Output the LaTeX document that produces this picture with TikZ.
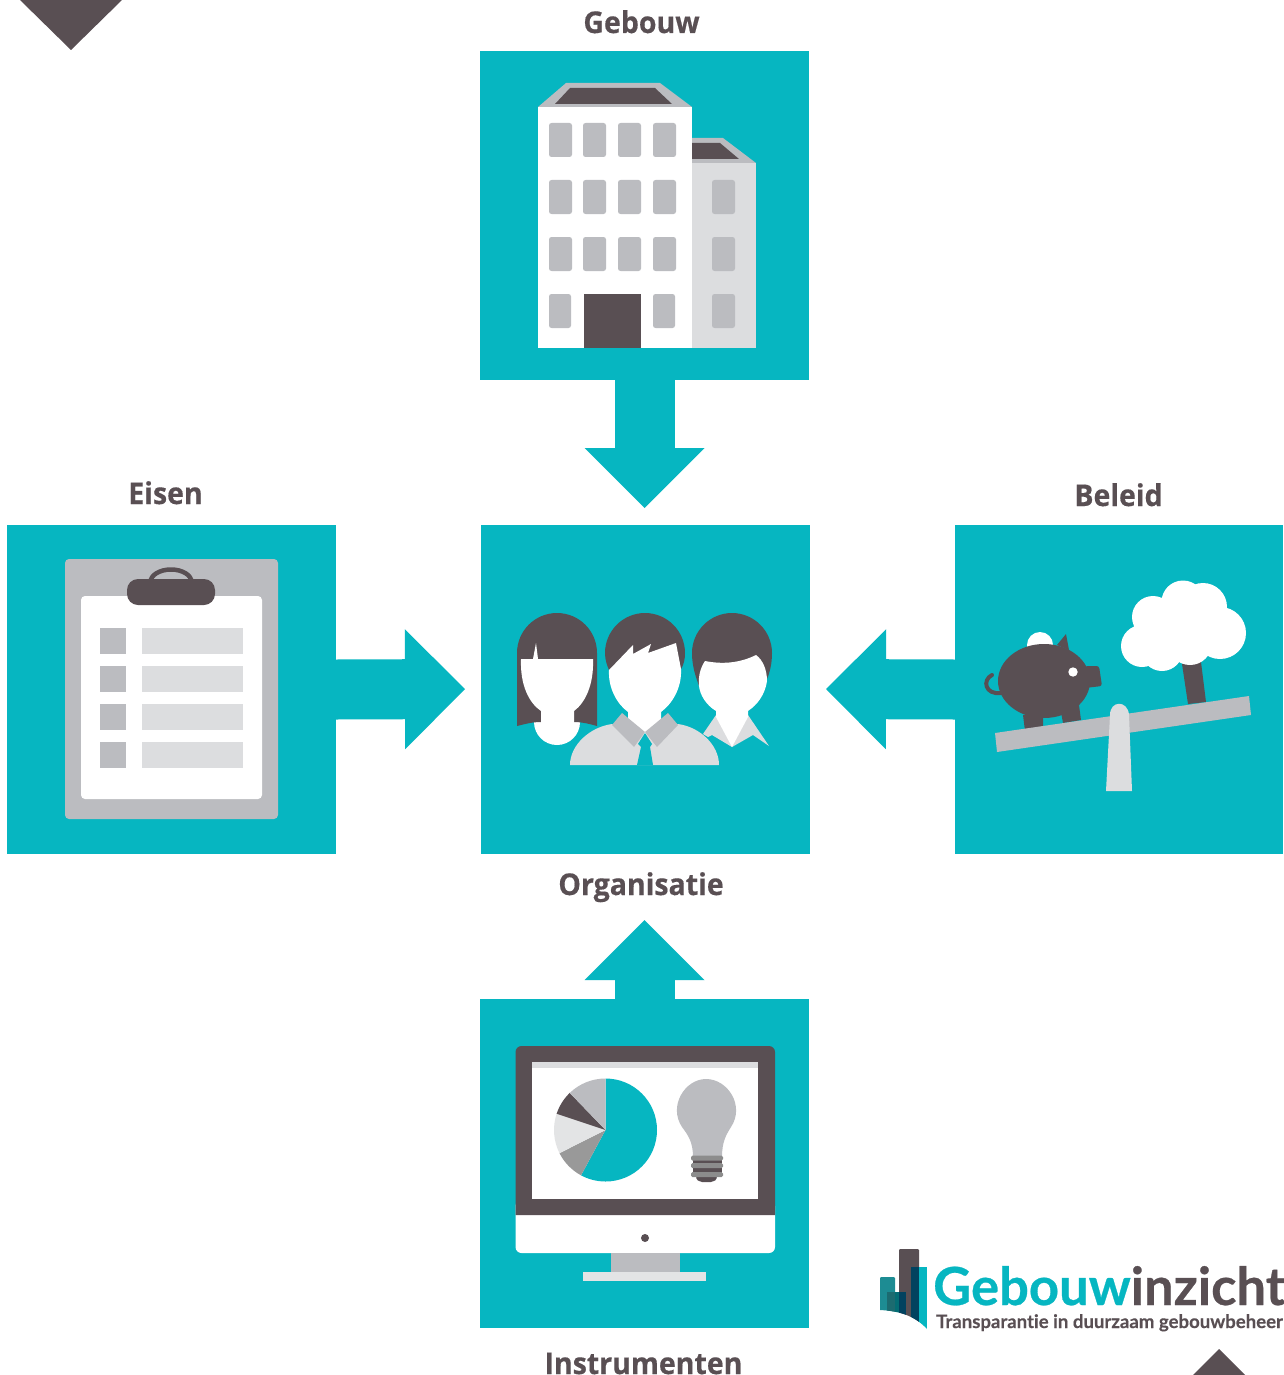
\documentclass[tikz,border=0pt]{standalone}
\usepackage{fontspec}
\setmainfont[FakeStretch=0.95,BoldFeatures={FakeBold=0.4}]{Open Sans}
\newfontfamily\logofont[Ligatures=NoCommon,BoldFeatures={FakeBold=0.5}]{Lato}
\newfontfamily\tagfont[Ligatures=NoCommon,BoldFeatures={FakeBold=0.3}]{Lato}
\usetikzlibrary{arrows.meta}
\definecolor{teal}{HTML}{06B6C1}
\definecolor{ink}{HTML}{594F53}
\definecolor{midgray}{HTML}{BBBCC0}
\definecolor{lightgray}{HTML}{DCDDDF}
\tikzset{
  square/.style={fill=teal,draw=none,minimum size=329pt,inner sep=0pt,outer sep=0pt,anchor=north west},
  flow/.style={draw=teal,line width=60pt,-{Triangle[length=60pt,width=120pt,line width=0pt]}},
  caption/.style={font=\fontsize{30}{36}\bfseries\selectfont,text=ink,anchor=base,inner sep=0pt},
  win/.style={fill=midgray,rounded corners=2.5pt},
}
\begin{document}
\begin{tikzpicture}[x=1pt,y=-1pt]
\useasboundingbox (0,0) rectangle (1283,1375);
\fill[white] (0,0) rectangle (1283,1375);
% corner triangles
\fill[ink] (20,0) -- (122,0) -- (71,50) -- cycle;
\fill[ink] (1193,1375) -- (1245,1375) -- (1219,1349) -- cycle;
% squares
\node[square] (gebouw) at (480,51) {};
\node[square] (eisen) at (7,525) {};
\node[square] (org) at (481,525) {};
\node[square,minimum width=328pt] (beleid) at (955,525) {};
\node[square] (instr) at (480,999) {};
% connectors
\coordinate (tipa) at (644.5,508);
\coordinate (tipb) at (465,689);
\coordinate (tipc) at (826,689);
\coordinate (tipd) at (644.5,920);
\draw[flow] (gebouw.south) -- (tipa);
\draw[flow] (eisen.east) -- (tipb);
\draw[flow] (beleid.west) -- (tipc);
\draw[flow] (instr.north) -- (tipd);
% captions
\node[caption] (lgebouw) at (641.5,33) {Gebouw};
\node[caption] (leisen) at (165.5,504) {Eisen};
\node[caption] (lbeleid) at (1118.5,506) {Beleid};
\node[caption] (lorg) at (641,895) {Organisatie};
\node[caption] (linstr) at (643.5,1374) {Instrumenten};
% building
\fill[lightgray] (692,163) rectangle (756,348);
\fill[midgray] (692,138) -- (723,138) -- (756,163) -- (692,163) -- cycle;
\fill[ink] (692,143) -- (720,143) -- (739,159) -- (692,159) -- cycle;
\fill[white] (538,107) rectangle (692,348);
\fill[midgray] (538,107) -- (566,83) -- (660,83) -- (692,107) -- cycle;
\fill[ink] (555,104) -- (570,88) -- (655,88) -- (672,104) -- cycle;
\foreach \y in {123,180,237}{
  \foreach \x in {549,583,618,653}{
    \fill[win] (\x,\y) rectangle ++(23,34);
  }
}
\fill[win] (549,294) rectangle ++(22,34);
\fill[win] (653,294) rectangle ++(22,34);
\foreach \y in {180,237,294}{\fill[win] (712,\y) rectangle ++(23,34);}
\fill[ink] (584,294) rectangle (641,348);
% clipboard
\fill[midgray,rounded corners=4pt] (65,559) rectangle (278,819);
\fill[white,rounded corners=4pt] (81,596) rectangle (262,799);
\draw[ink,line width=4.5pt] (150.5,582) arc[start angle=180,end angle=360,x radius=20.5,y radius=12.5];
\fill[ink,rounded corners=11pt] (127,579) rectangle (215,605);
\foreach \y in {628,666,704,742}{
  \fill[midgray] (100,\y) rectangle ++(26,26);
  \fill[lightgray] (142,\y) rectangle ++(101,26);
}
% left woman
\fill[white] (557,722) circle[radius=23];
\fill[ink] (517,726) -- (517,653) arc[start angle=180,end angle=360,radius=40] -- (597,726)
  .. controls (590,724) and (582,722) .. (574,722) -- (541,722) .. controls (532,722) and (525,724) .. (517,726) -- cycle;
\fill[white] (521,659) -- (533,659) -- (536,643) -- (538,659) -- (593,659)
  .. controls (594,685) and (585,703) .. (574,711) -- (574,735) -- (541,735) -- (541,711)
  .. controls (529,703) and (520,685) .. (521,659) -- cycle;
% right woman
\fill[ink] (692,653) .. controls (692,631) and (710,613) .. (732,613) .. controls (754,613) and (772,631) .. (772,653)
  .. controls (772,663) and (770,672) .. (767,679) -- (699,686) .. controls (695,675) and (692,665) .. (692,653) -- cycle;
\fill[lightgray] (716,715) -- (703,734) -- (708,737) -- (712,735) -- (732,747) -- (753,735) -- (769,746) -- (748,715) -- cycle;
\fill[white] (705,661) .. controls (725,665) and (742,662) .. (756,655)
  .. controls (763,660) and (767,670) .. (767,681) .. controls (765,695) and (757,705) .. (748,711)
  -- (748,717) -- (732,747) -- (716,717) -- (716,711)
  .. controls (706,705) and (700,695) .. (699,686) .. controls (698,675) and (701,667) .. (705,661) -- cycle;
% man
\fill[lightgray] (570,765) .. controls (570,745) and (590,727) .. (612,724) -- (678,724)
  .. controls (700,727) and (719,745) .. (719,765) -- cycle;
\fill[ink] (645,613) .. controls (623,613) and (605,631) .. (605,653) .. controls (605,660) and (607,665) .. (609,670)
  -- (681,669) .. controls (684,664) and (685,659) .. (685,653) .. controls (685,631) and (667,613) .. (645,613) -- cycle;
\fill[white] (609,670) -- (633,645) -- (633,654) -- (651,644) -- (648,653) -- (676,643) -- (681,669)
  .. controls (682,688) and (672,704) .. (661,712) -- (661,722) -- (645,734) -- (628,722) -- (628,712)
  .. controls (617,704) and (608,688) .. (609,670) -- cycle;
\fill[midgray] (622,713) -- (645,732) -- (634,747) -- (612,725) -- cycle;
\fill[midgray] (668,713) -- (645,732) -- (657,747) -- (678,725) -- cycle;
\fill[teal] (645,733) -- (652,744) -- (650,747) -- (653,765) -- (637,765) -- (641,747) -- (638,744) -- cycle;
% seesaw, tree, pig
\fill[ink] (1182,664) -- (1201,662) -- (1206,702) -- (1188,704) -- cycle;
\fill[white] (1142,646) circle[radius=21] (1153,617) circle[radius=21] (1183,602) circle[radius=21.5]
  (1203,607) circle[radius=24] (1220,633) circle[radius=26] (1162,650) circle[radius=21]
  (1190,643) circle[radius=22] (1175,625) circle[radius=25];
\fill[white] (1040,645) circle[radius=13];
\draw[ink,line width=4pt,line cap=round] (1001,693) .. controls (985,695) and (982,680) .. (992,675);
\fill[ink] (1023,715) -- (1043,712) -- (1043,728) -- (1025,731) -- cycle;
\fill[ink] (1061,712) -- (1079,705) -- (1081,720) -- (1063,723) -- cycle;
\fill[ink] (1057,645) -- (1066,634) -- (1069,650) -- cycle;
\fill[ink,rounded corners=2.5pt] (1085,666) -- (1099,666) -- (1102,686) -- (1085,688) -- cycle;
\fill[ink] (1044,681) ellipse[x radius=46,y radius=37];
\fill[white] (1073,672) circle[radius=4.7];
\fill[midgray] (995,733) -- (1249,696) -- (1251,715) -- (997,752) -- cycle;
\fill[lightgray] (1106,791) -- (1110,715) .. controls (1110,700) and (1128,700) .. (1129,715) -- (1132,791) -- cycle;
% monitor
\fill[white,rounded corners=6pt] (515.5,1200) rectangle (775,1253);
\fill[ink,rounded corners=6pt] (515.5,1215) -- (515.5,1046) -- (775,1046) -- (775,1215);
\fill[ink] (515.5,1205) rectangle (775,1215);
\fill[white] (532,1062) rectangle (758,1199);
\fill[lightgray] (532,1062) rectangle (758,1068);
\fill[ink] (645,1238) circle[radius=4];
\fill[midgray] (611,1253) rectangle (680,1272);
\fill[lightgray!80!white] (583,1272) rectangle (706,1281);
% pie
\coordinate (pc) at (605.5,1130);
\fill[teal] (pc) -- ++(-90:51.5) arc[start angle=-90,delta angle=208.3,radius=51.5] -- cycle;
\fill[gray!80!white] (pc) -- ++(118.3:51.5) arc[start angle=118.3,delta angle=35,radius=51.5] -- cycle;
\fill[lightgray!80!white] (pc) -- ++(153.3:51.5) arc[start angle=153.3,delta angle=45.1,radius=51.5] -- cycle;
\fill[ink] (pc) -- ++(198.4:51.5) arc[start angle=198.4,delta angle=27.6,radius=51.5] -- cycle;
\fill[midgray] (pc) -- ++(226:51.5) arc[start angle=226,delta angle=44,radius=51.5] -- cycle;
% bulb
\fill[midgray] (693,1157) .. controls (693,1142) and (688,1135) .. (682,1127)
  .. controls (668,1106) and (685,1079) .. (706,1079)
  .. controls (728,1079) and (745,1106) .. (731,1127)
  .. controls (726,1135) and (722,1142) .. (722,1157) -- cycle;
\fill[ink] (696,1176) -- (717,1176) .. controls (717,1180) and (714,1182) .. (711,1182) -- (702,1182) .. controls (699,1182) and (696,1180) .. (696,1176) -- cycle;
\fill[ink] (693,1158) rectangle (722,1176);
\foreach \y in {1155.5,1163,1172}{\fill[gray!90!white,rounded corners=1.5pt] (691,\y) rectangle (723,\y+5);}
% logo mark
\begin{scope}
\clip (878,1240) -- (930,1240) -- (927,1329) .. controls (915,1316) and (900,1311) .. (880,1310) -- cycle;
\fill[ink,rounded corners=1pt] (899,1249) rectangle (919,1330);
\fill[teal!70!black!90!white,rounded corners=1pt] (880,1277) rectangle (895,1330);
\fill[teal!50!black!90!white] (887,1292) rectangle (895,1330);
\fill[teal!60!black] (895,1292) rectangle (899,1330);
\fill[teal!40!black!90!blue] (899,1292) rectangle (906,1330);
\fill[teal] (919,1267) rectangle (927,1330);
\fill[teal!40!black!90!blue] (911,1267) rectangle (919,1330);
\end{scope}
\node[font=\logofont\fontsize{52.5}{60}\bfseries\selectfont,anchor=base west,inner sep=0pt] (logo) at (933,1305) {\textcolor{teal}{Gebouw}\textcolor{ink}{inzicht}};
\node[font=\tagfont\fontsize{18.6}{22}\bfseries\selectfont,text=ink,anchor=base west,inner sep=0pt] (tag) at (936,1328) {Transparantie in duurzaam gebouwbeheer};
\end{tikzpicture}
\end{document}
